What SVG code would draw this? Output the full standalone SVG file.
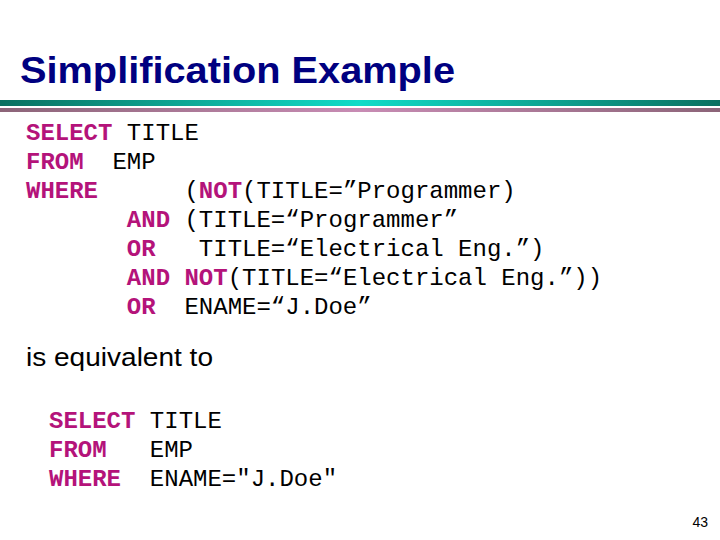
<svg xmlns="http://www.w3.org/2000/svg" width="720" height="540" viewBox="0 0 720 540">
<defs>
<linearGradient id="g1" x1="0" x2="1" y1="0" y2="0"><stop offset="0" stop-color="#0a7060"/><stop offset="0.5" stop-color="#10dcc8"/><stop offset="1" stop-color="#0a7060"/></linearGradient>
<linearGradient id="g2" x1="0" x2="1" y1="0" y2="0"><stop offset="0" stop-color="#8c6478"/><stop offset="0.5" stop-color="#c88cb4"/><stop offset="1" stop-color="#8c6478"/></linearGradient>
<style>
.m text{font-family:"Liberation Mono","Courier New",monospace;font-size:24px;fill:#000;white-space:pre}
.k{font-weight:bold;fill:#b4137a}
.s{font-family:"Liberation Sans",Arial,sans-serif}
</style>
</defs>
<rect width="720" height="540" fill="#fff"/>
<text class="s" x="20" y="83" font-size="37" font-weight="bold" fill="#000080" textLength="435" lengthAdjust="spacingAndGlyphs">Simplification Example</text>
<rect x="0" y="100" width="720" height="6" fill="url(#g1)"/>
<rect x="0" y="108" width="720" height="4" fill="url(#g2)"/>
<g id="query1" class="m" xml:space="preserve">
<text x="26" y="140"><tspan class="k">SELECT</tspan> TITLE</text>
<text x="26" y="169"><tspan class="k">FROM</tspan>  EMP</text>
<text x="26" y="198"><tspan class="k">WHERE</tspan>      (<tspan class="k">NOT</tspan>(TITLE=”Programmer)</text>
<text x="26" y="227">       <tspan class="k">AND</tspan> (TITLE=“Programmer”</text>
<text x="26" y="256">       <tspan class="k">OR</tspan>   TITLE=“Electrical Eng.”)</text>
<text x="26" y="285">       <tspan class="k">AND</tspan> <tspan class="k">NOT</tspan>(TITLE=“Electrical Eng.”))</text>
<text x="26" y="314">       <tspan class="k">OR</tspan>  ENAME=“J.Doe”</text>
</g>
<text class="s" x="26" y="366" font-size="26" textLength="187" lengthAdjust="spacingAndGlyphs">is equivalent to</text>
<g id="query2" class="m" xml:space="preserve">
<text x="49" y="428"><tspan class="k">SELECT</tspan> TITLE</text>
<text x="49" y="457"><tspan class="k">FROM</tspan>   EMP</text>
<text x="49" y="486"><tspan class="k">WHERE</tspan>  ENAME="J.Doe"</text>
</g>
<text class="s" x="708" y="527" font-size="14" text-anchor="end">43</text>
</svg>
